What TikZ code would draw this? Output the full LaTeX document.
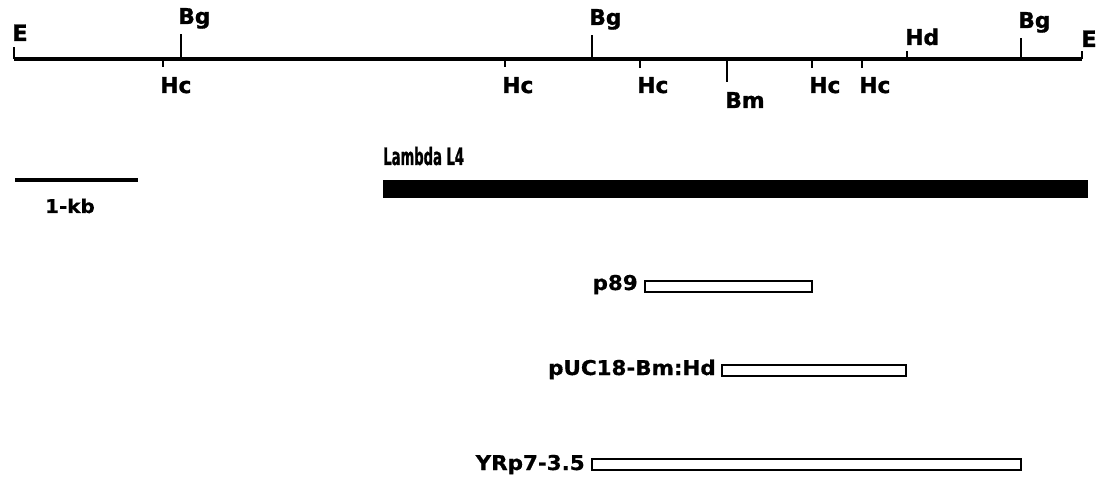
\documentclass[tikz,border=0pt]{standalone}
\usepackage{fontspec}
\setmainfont{DejaVu Sans}
\newfontfamily\sitefont[BoldFeatures={FakeBold=1.2}]{DejaVu Sans}
\newfontfamily\clonefont[FakeStretch=1.05, BoldFeatures={FakeStretch=1.05, FakeBold=0.6}]{DejaVu Sans}
\newfontfamily\lambdafont[FakeStretch=0.55, BoldFeatures={FakeStretch=0.55, FakeBold=0.8}]{DejaVu Sans}
\tikzset{
  site/.style={font=\sitefont\bfseries\fontsize{15.5}{17}\selectfont, inner sep=0pt, anchor=base west},
  clone/.style={font=\clonefont\bfseries\fontsize{14.5}{16}\selectfont, inner sep=0pt, anchor=base east},
  tick/.style={line width=2.1pt},
  insert/.style={draw, line width=1.8pt, fill=white},
}
\begin{document}
\begin{tikzpicture}[x=0.025cm, y=-0.025cm]
  \useasboundingbox (0,0) rectangle (1102,478);
  % Restriction map, E to E; up ticks above, down ticks below.
  \draw[line width=2.4pt] (14,59) -- (1082,59);
  \draw[tick] (14,59) -- (14,47);
  \node[site, font=\sitefont\bfseries\fontsize{16}{18}\selectfont] (e1) at (12,41) {E};
  \draw[tick] (181,59) -- (181,34);
  \node[site] (bg1) at (178,24) {Bg};
  \draw[tick] (163,59) -- (163,67);
  \node[site] (hc1) at (160,93) {Hc};
  \draw[tick] (505,59) -- (505,67);
  \node[site] (hc2) at (502,93) {Hc};
  \draw[tick] (592,59) -- (592,35);
  \node[site] (bg2) at (589,25) {Bg};
  \draw[tick] (640,59) -- (640,68);
  \node[site] (hc3) at (637,93) {Hc};
  \draw[tick] (727,59) -- (727,82);
  \node[site] (bm) at (725,108) {Bm};
  \draw[tick] (812,59) -- (812,68);
  \node[site] (hc4) at (809,93) {Hc};
  \draw[tick] (862,59) -- (862,68);
  \node[site] (hc5) at (859,93) {Hc};
  \draw[tick] (907,59) -- (907,51);
  \node[site] (hd) at (905,45) {Hd};
  \draw[tick] (1021,59) -- (1021,38);
  \node[site] (bg3) at (1018,28) {Bg};
  \draw[tick] (1082,59) -- (1082,51);
  \node[site, font=\sitefont\bfseries\fontsize{16}{18}\selectfont] (e2) at (1081,47) {E};
  % Scale bar
  \draw[line width=2.6pt] (15,180) -- (138,180);
  \node[clone, anchor=base, font=\clonefont\bfseries\fontsize{13.5}{15}\selectfont] (kb) at (70,213) {1-kb};
  % Lambda clone and subclones
  \node[anchor=base west, inner sep=0pt, font=\lambdafont\bfseries\fontsize{17}{19}\selectfont] (lambda) at (383,165) {Lambda L4};
  \fill (383,180) rectangle (1088,198);
  \node[clone] (p89) at (638,290) {p89};
  \draw[insert] (645,281) rectangle (812,292);
  \node[clone] (puc) at (716,375) {pUC18-Bm:Hd};
  \draw[insert] (722,365) rectangle (906,376);
  \node[clone] (yrp) at (585,470) {YRp7-3.5};
  \draw[insert] (592,459) rectangle (1021,470);
\end{tikzpicture}
\end{document}
